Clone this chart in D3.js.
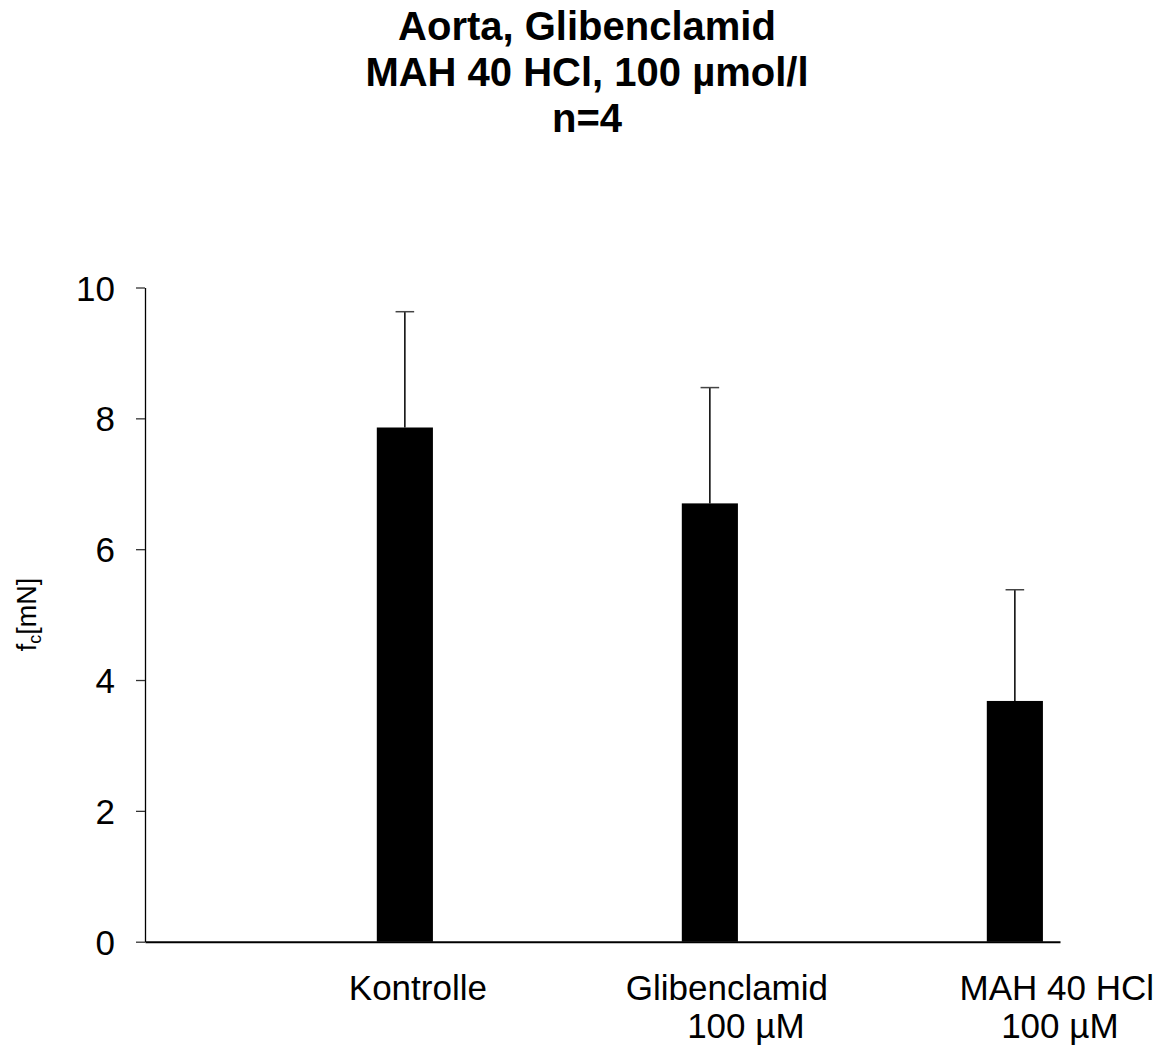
<!DOCTYPE html>
<html>
<head>
<meta charset="utf-8">
<script src="https://cdn.jsdelivr.net/npm/d3@7"></script>
<style>
  body { margin: 0; background: #fff; }
  svg { display: block; font-family: "Liberation Sans", Arial, sans-serif; }
</style>
</head>
<body>
<div id="chart"></div>
<script>
var categories = ["Kontrolle", "Glibenclamid", "MAH 40 HCl"];
var subLabels = ["", "100 µM", "100 µM"];
var means = [7.86, 6.70, 3.68];
var errors = [1.77, 1.77, 1.70];
var yTicks = [0, 2, 4, 6, 8, 10];
var titleLines = ["Aorta, Glibenclamid", "MAH 40 HCl, 100 µmol/l", "n=4"];

var W = 1168, H = 1047;
var plotLeft = 145, plotRight = 1060, plotTop = 287.5, plotBottom = 941.7;

var svg = d3.select("#chart").append("svg")
  .attr("width", W)
  .attr("height", H);

var x = d3.scaleBand()
  .domain(categories)
  .range([plotLeft, plotRight])
  .padding(0);

var y = d3.scaleLinear()
  .domain([0, 10])
  .range([plotBottom, plotTop]);

// bar sits in the right part of each category slot
var barW = x.bandwidth() * 0.184;
var barX = function(d) { return x(d) + x.bandwidth() * 0.76; };
var barC = function(d) { return barX(d) + barW / 2; };

// title
svg.append("g")
  .selectAll("text")
  .data(titleLines)
  .enter()
  .append("text")
  .attr("x", 587)
  .attr("y", function(d, i) { return 39.5 + i * 46; })
  .attr("text-anchor", "middle")
  .style("font-size", "40px")
  .style("font-weight", "bold")
  .text(function(d) { return d; });

// y axis
var yAxis = svg.append("g")
  .attr("transform", "translate(" + plotLeft + ",0)")
  .call(d3.axisLeft(y)
    .tickValues(yTicks)
    .tickSize(9)
    .tickSizeOuter(0)
    .tickPadding(21)
    .tickFormat(d3.format("d")));
yAxis.select(".domain").attr("stroke", "#000").attr("stroke-width", 1.3);
yAxis.selectAll(".tick line").attr("stroke", "#333").attr("stroke-width", 1.3);
yAxis.selectAll(".tick text")
  .attr("fill", "#000")
  .style("font-size", "35px")
  .attr("dy", "0.36em")
  .style("font-family", "'Liberation Sans', Arial, sans-serif");

// y label with subscript
var ylab = svg.append("text")
  .attr("transform", "translate(36," + ((plotTop + plotBottom) / 2) + ") rotate(-90)")
  .attr("text-anchor", "middle")
  .style("font-size", "27px");
ylab.append("tspan").text("f");
ylab.append("tspan").attr("baseline-shift", "-30%").style("font-size", "18px").text("c");
ylab.append("tspan").text("[mN]");

// bars
svg.selectAll(".bar")
  .data(categories)
  .enter()
  .append("rect")
  .attr("class", "bar")
  .attr("x", barX)
  .attr("width", barW)
  .attr("y", function(d, i) { return y(means[i]); })
  .attr("height", function(d, i) { return plotBottom - y(means[i]); })
  .attr("fill", "#000");

// upper error bars
var err = svg.selectAll(".err")
  .data(categories)
  .enter()
  .append("g")
  .attr("class", "err")
  .attr("stroke", "#000")
  .attr("stroke-width", 1.5);
err.append("line")
  .attr("x1", barC)
  .attr("x2", barC)
  .attr("y1", function(d, i) { return y(means[i]); })
  .attr("y2", function(d, i) { return y(means[i] + errors[i]); });
err.append("line")
  .attr("x1", function(d) { return barC(d) - 9.3; })
  .attr("x2", function(d) { return barC(d) + 9.3; })
  .attr("y1", function(d, i) { return y(means[i] + errors[i]); })
  .attr("y2", function(d, i) { return y(means[i] + errors[i]); })
  .attr("stroke", "#444");

// x axis line
var xAxis = svg.append("g")
  .attr("transform", "translate(0," + plotBottom + ")")
  .call(d3.axisBottom(x).tickSize(0).tickSizeOuter(0).tickFormat(""));
xAxis.select(".domain").attr("stroke", "#000").attr("stroke-width", 2);

// category labels (nudged like the original)
var nudge1 = [13, 17, 42];
var nudge2 = [0, 36, 45];
var lab = svg.selectAll(".xlab")
  .data(categories)
  .enter()
  .append("g")
  .attr("class", "xlab")
  .style("font-size", "35px");
lab.append("text")
  .attr("x", function(d, i) { return barC(d) + nudge1[i]; })
  .attr("y", 1000)
  .attr("text-anchor", "middle")
  .text(function(d) { return d; });
lab.append("text")
  .attr("x", function(d, i) { return barC(d) + nudge2[i]; })
  .attr("y", 1038)
  .attr("text-anchor", "middle")
  .text(function(d, i) { return subLabels[i]; });
</script>
</body>
</html>
